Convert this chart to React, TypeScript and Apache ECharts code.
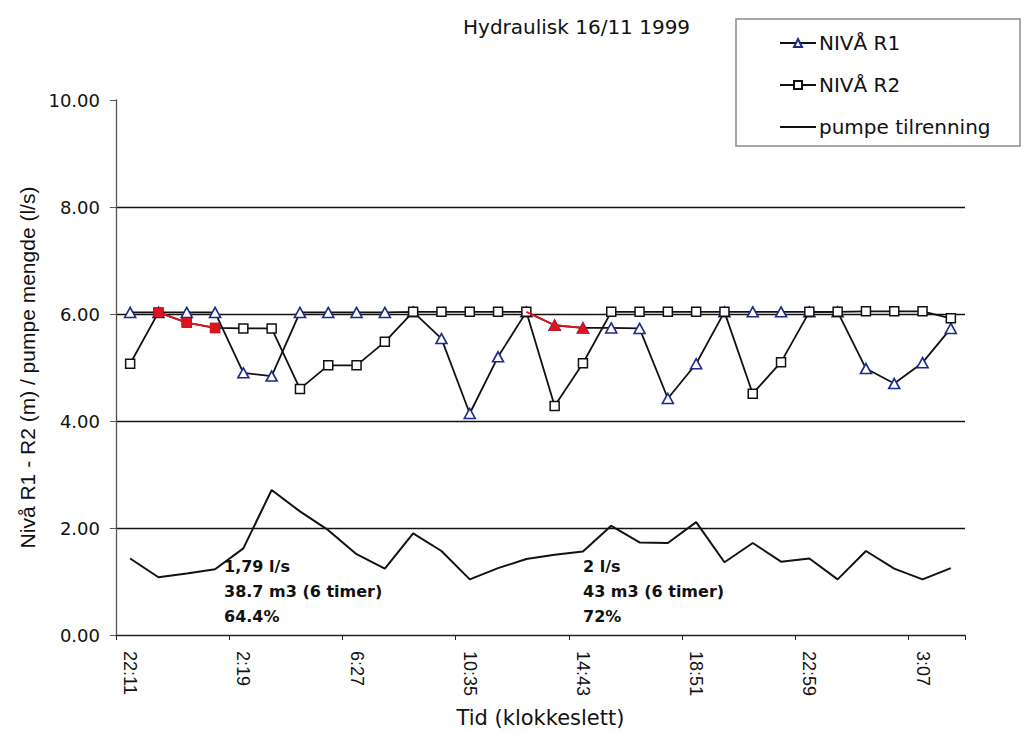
import React, { useEffect, useRef } from "react";
import * as echarts from "echarts";

const categories = [
  "22:11", "23:13", "0:15", "1:17", "2:19", "3:21", "4:23", "5:25", "6:27", "7:29",
  "8:31", "9:33", "10:35", "11:37", "12:39", "13:41", "14:43", "15:45", "16:47", "17:49",
  "18:51", "19:53", "20:55", "21:57", "22:59", "0:01", "1:03", "2:05", "3:07", "4:09",
];

const nivaR1 = [
  6.03, 6.03, 6.03, 6.03, 4.9, 4.84, 6.03, 6.03, 6.03, 6.03,
  6.04, 5.54, 4.14, 5.2, 6.04, 5.79, 5.74, 5.74, 5.73, 4.42,
  5.07, 6.04, 6.04, 6.04, 6.04, 6.04, 4.98, 4.7, 5.09, 5.73,
];

const nivaR2 = [
  5.07, 6.03, 5.84, 5.74, 5.73, 5.73, 4.6, 5.04, 5.04, 5.48,
  6.04, 6.04, 6.04, 6.04, 6.04, 4.28, 5.08, 6.04, 6.04, 6.04,
  6.04, 6.04, 4.51, 5.1, 6.04, 6.04, 6.05, 6.05, 6.05, 5.92,
];

const pumpe = [
  1.43, 1.08, 1.15, 1.23, 1.62, 2.71, 2.31, 1.96, 1.51, 1.24,
  1.9, 1.57, 1.04, 1.25, 1.42, 1.5, 1.56, 2.04, 1.73, 1.72,
  2.11, 1.36, 1.72, 1.37, 1.43, 1.04, 1.57, 1.24, 1.04, 1.25,
];

const redR2Index = [1, 2, 3];
const redR1Index = [14, 15, 16];

const note1 = ["1,79 l/s", "38.7 m3 (6 timer)", "64.4%"];
const note2 = ["2 l/s", "43 m3 (6 timer)", "72%"];

const HFONT = "'DejaVu Sans', 'Liberation Sans', Arial, sans-serif";
const VFONT = "'Liberation Sans', Arial, sans-serif";

export default function App() {
  const ref = useRef<HTMLDivElement>(null);

  useEffect(() => {
    if (!ref.current) return;
    const chart = echarts.init(ref.current, null, { renderer: "svg" });

    const pick = (arr: number[], idx: number[], noSymbolFirst: boolean) =>
      arr.map((v, i) => {
        if (!idx.includes(i)) return null;
        if (noSymbolFirst && i === idx[0]) return { value: v, symbol: "none" };
        return v;
      });

    const option: any = {
      animation: false,
      backgroundColor: "#ffffff",
      grid: { left: 116, right: 62, top: 100, bottom: 98, containLabel: false },
      legend: {
        data: [
          "NIVÅ R1",
          "NIVÅ R2",
          { name: "pumpe tilrenning", itemStyle: { color: "rgba(0,0,0,0)", borderWidth: 0, opacity: 0 } },
        ],
        orient: "vertical",
        left: 779,
        top: 33,
        padding: 0,
        itemWidth: 36,
        itemHeight: 10,
        itemGap: 22,
        textStyle: { fontFamily: HFONT, fontSize: 20, lineHeight: 20, color: "#111", padding: [0, 0, 0, -2] },
      },
      xAxis: {
        type: "category",
        data: categories,
        boundaryGap: true,
        name: "Tid (klokkeslett)",
        nameLocation: "middle",
        nameGap: 72,
        nameTextStyle: { fontFamily: HFONT, fontSize: 21, color: "#111" },
        axisLine: { show: true, lineStyle: { color: "#222", width: 1.3 } },
        axisTick: { show: true, interval: 3, length: 5, alignWithLabel: false, lineStyle: { color: "#222" } },
        axisLabel: {
          interval: 3,
          rotate: -90,
          margin: 16,
          fontFamily: VFONT,
          fontSize: 18,
          color: "#111",
        },
        splitLine: { show: false },
      },
      yAxis: {
        type: "value",
        min: 0,
        max: 10,
        interval: 2,
        name: "Nivå R1 - R2 (m) / pumpe mengde (l/s)",
        nameLocation: "middle",
        nameGap: 74,
        nameTextStyle: { fontFamily: VFONT, fontSize: 21, color: "#111" },
        axisLine: { show: true, lineStyle: { color: "#555", width: 1.3 } },
        axisTick: { show: true, length: 6, lineStyle: { color: "#555" } },
        axisLabel: {
          margin: 16,
          fontFamily: HFONT,
          fontSize: 18,
          color: "#111",
          formatter: (v: number) => v.toFixed(2),
        },
        splitLine: {
          show: true,
          showMaxLine: false,
          showMinLine: false,
          lineStyle: { color: "#111", width: 1.4 },
        },
      },
      graphic: [
        {
          type: "rect",
          shape: { x: 736, y: 19, width: 284, height: 127 },
          style: { fill: "rgba(0,0,0,0)", stroke: "#8a8a8a", lineWidth: 1.5 },
          z: 0,
        },
        {
          type: "text",
          x: 463,
          y: 27,
          style: {
            text: "Hydraulisk 16/11 1999",
            fontFamily: HFONT,
            fontSize: 20,
            fill: "#111",
            textVerticalAlign: "middle",
          },
        },
        {
          type: "text",
          x: 224,
          y: 554,
          style: {
            text: note1.join("\n"),
            fontFamily: HFONT,
            fontSize: 16,
            fontWeight: "bold",
            lineHeight: 25,
            fill: "#111",
            textVerticalAlign: "top",
          },
          z: 10,
        },
        {
          type: "text",
          x: 583,
          y: 554,
          style: {
            text: note2.join("\n"),
            fontFamily: HFONT,
            fontSize: 16,
            fontWeight: "bold",
            lineHeight: 25,
            fill: "#111",
            textVerticalAlign: "top",
          },
          z: 10,
        },
      ],
      series: [
        {
          name: "NIVÅ R1",
          type: "line",
          data: nivaR1,
          symbol: "triangle",
          symbolSize: [11, 10],
          showAllSymbol: true,
          lineStyle: { color: "#111", width: 1.8 },
          itemStyle: { color: "#ffffff", borderColor: "#1c2a8c", borderWidth: 1.6 },
          z: 2,
        },
        {
          name: "NIVÅ R2",
          type: "line",
          data: nivaR2,
          symbol: "rect",
          symbolSize: 9,
          showAllSymbol: true,
          lineStyle: { color: "#111", width: 1.8 },
          itemStyle: { color: "#ffffff", borderColor: "#111", borderWidth: 1.5 },
          z: 3,
        },
        {
          name: "pumpe tilrenning",
          type: "line",
          data: pumpe,
          symbol: "none",
          lineStyle: { color: "#111", width: 2 },
          itemStyle: { color: "#111" },
          z: 2,
        },
        {
          name: "r2red",
          type: "line",
          data: pick(nivaR2, redR2Index, false),
          symbol: "rect",
          symbolSize: 9,
          connectNulls: false,
          lineStyle: { color: "#e0141e", width: 1.8 },
          itemStyle: { color: "#e0141e", borderColor: "#e0141e", borderWidth: 1 },
          z: 4,
        },
        {
          name: "r1red",
          type: "line",
          data: pick(nivaR1, redR1Index, true),
          symbol: "triangle",
          symbolSize: [11, 10],
          connectNulls: false,
          lineStyle: { color: "#e0141e", width: 1.8 },
          itemStyle: { color: "#e0141e", borderColor: "#e0141e", borderWidth: 1 },
          z: 4,
        },
      ],
    };

    chart.setOption(option);
    return () => chart.dispose();
  }, []);

  return (
    <div
      ref={ref}
      style={{ position: "fixed", left: 0, top: 0, width: 1027, height: 733, background: "#fff" }}
    />
  );
}
